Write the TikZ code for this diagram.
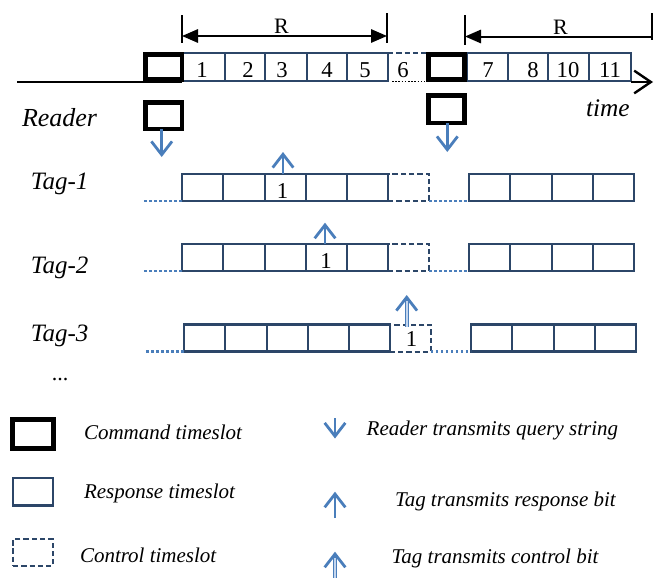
\documentclass[tikz,border=0pt]{standalone}
\usepackage{fontspec}
\setmainfont{Liberation Serif}
\usetikzlibrary{arrows.meta,calc}

\definecolor{slotnavy}{RGB}{44,70,104}
\definecolor{sigblue}{RGB}{74,126,187}
\definecolor{paleblue}{RGB}{196,214,238}

\newcommand\fs[1]{\fontsize{#1}{#1}\selectfont}

% one row of tag timeslots: #1 name prefix, #2 top, #3 bottom, #4 horizontal shift
\newcommand\tagrow[4]{%
  \node[ctrlbox, minimum width=30.75pt, minimum height={(#3-#2)*0.75pt}]
    (#1c6) at ({408.5+#4},{(#2+#3)/2}) {};
  \foreach \a/\b [count=\i] in {182/223,223/265,265/306,306/347,347/388}{
    \node[resp, minimum width={(\b-\a)*0.75pt}, minimum height={(#3-#2)*0.75pt}]
      (#1c\i) at ({(\a+\b)/2+#4},{(#2+#3)/2}) {};}
  \foreach \a/\b [count=\i from 7] in {469/510,510/552,552/593,593/634}{
    \node[resp, minimum width={(\b-\a)*0.75pt}, minimum height={(#3-#2)*0.75pt}]
      (#1c\i) at ({(\a+\b)/2+#4},{(#2+#3)/2}) {};}
  \draw[tail] (#1c1.south west) -- ++(-39,0);
  \draw[tail] (#1c6.south east) -- (#1c7.south west);
}

\begin{document}
\begin{tikzpicture}[x=0.75pt,y=-0.75pt,
  every node/.style={inner sep=0pt, outer sep=0pt},
  resp/.style={draw=slotnavy, line width=1.65pt, fill=white},
  ctrlbox/.style={draw=slotnavy, line width=1.5pt, dash pattern=on 4pt off 2.2pt},
  cmd/.style={draw=black, line width=3.4pt, fill=white},
  tail/.style={draw=sigblue, line width=1.6pt, dash pattern=on 2pt off 1.75pt},
  sig/.style={draw=sigblue, line width=2.1pt, -{Straight Barb[length=10pt,width=15.5pt]}},
  num/.style={font=\fs{17}, anchor=base},
  lbl/.style={font=\fs{18.75}\itshape, anchor=base west},
  leg/.style={font=\fs{15.75}\itshape, anchor=base west},
  axis/.style={draw=black, line width=1.8pt},
  dim/.style={draw=black, line width=1.5pt},
  tick/.style={draw=black, line width=1.1pt},
]
\useasboundingbox (0,0) rectangle (661,578);

% ---------------- time axis ----------------
\coordinate (t0) at (17,82);
\coordinate (t1) at (653,82);

% response timeslots on the axis (c1..c5 before, c7..c10 after the control slot)
\foreach \a/\b [count=\i] in {182/225,225/265,265/307,307/347,347/388}{
  \node[resp, minimum width={(\b-\a)*0.75pt}, minimum height=21pt]
    (c\i) at ({(\a+\b)/2},67) {};}
\foreach \a/\b [count=\i from 7] in {467/508,508/548,548/589,589/631}{
  \node[resp, minimum width={(\b-\a)*0.75pt}, minimum height=21pt]
    (c\i) at ({(\a+\b)/2},67) {};}
% control timeslot on the axis
\node[minimum width=29.25pt, minimum height=21pt] (c6) at (407.5,67) {};
\draw[ctrlbox] (c6.north west) -- (c6.north east);
\draw[black, line width=1.2pt, dash pattern=on 1.2pt off 1.2pt]
  ($(c6.south west)+(4,0.5)$) -- ($(c6.south east)+(-2,0.5)$);

\draw[axis] (t0) -- (t0 -| c1.west);
\draw[axis, -{Straight Barb[length=12.5pt,width=17pt]}] (c10.east |- t1) -- (t1);

% command timeslots on the axis
\node[cmd, minimum width=27.4pt, minimum height=19.1pt] (cmdA) at (163.5,67) {};
\node[cmd, minimum width=27pt, minimum height=19.1pt] (cmdB) at (446.7,67) {};

% slot numbers
\foreach \x/\t [count=\i] in {202/1,248/2,282/3,327/4,365/5,403/6,488/7,533/8,568/10,610/11}{
  \node[num] (n\i) at (\x,77.5) {\t};}

% round length markers
\coordinate (ra) at (182,36);
\coordinate (rb) at (387,36);
\coordinate (rc) at (465,36.5);
\coordinate (rd) at (652,36.5);
\draw[tick] ($(ra)+(0,-21)$) -- ($(ra)+(0,7)$);
\draw[tick] ($(rb)+(0,-23)$) -- ($(rb)+(0,7)$);
\draw[tick] ($(rc)+(0,-21.5)$) -- ($(rc)+(0,8.5)$);
\draw[tick] ($(rd)+(0,-23.5)$) -- ($(rd)+(0,3.5)$);
\draw[dim, {Triangle[length=12pt,width=10pt]}-{Triangle[length=12pt,width=10pt]}] (ra) -- (rb);
\draw[dim, {Triangle[length=12pt,width=10pt]}-] (rc) -- (rd);
\node[font=\fs{16.5}, anchor=base] (r1) at (281.5,33) {R};
\node[font=\fs{16.5}, anchor=base] (r2) at (560.5,35) {R};

\node[font=\fs{19}\itshape, anchor=base west] (time) at (586,116) {time};

% ---------------- reader ----------------
\node[font=\fs{19.5}\itshape, anchor=base west] (reader) at (22,126.5) {Reader};
\node[cmd, minimum width=27.4pt, minimum height=19.9pt] (rd1) at (163.5,115.5) {};
\node[cmd, minimum width=27pt, minimum height=20.4pt] (rd2) at (446.7,109.2) {};
\coordinate (rd1tip) at (161.7,157);
\coordinate (rd2tip) at (447.3,152);
\draw[sig] (rd1.south -| rd1tip) -- (rd1tip);
\draw[sig] (rd2.south -| rd2tip) -- (rd2tip);

% ---------------- tags ----------------
\node[lbl] (tag1) at (31,189) {Tag-1};
\node[lbl] (tag2) at (31,273) {Tag-2};
\node[lbl] (tag3) at (31,341.7) {Tag-3};
\node[font=\fs{16.5}, anchor=base] (more) at (60,380) {...};

\tagrow{ta}{174}{201}{0}
\tagrow{tb}{244}{271}{0}
\tagrow{tc}{324.5}{351.5}{1.8}

\node[num] (ta1) at (282.5,198) {1};
\node[num] (tb1) at (326,268) {1};
\node[num] (tc1) at (411.5,346.7) {1};

\coordinate (taup) at (283,152);
\coordinate (tbup) at (325,222.7);
\coordinate (tcup) at (406.7,295);
\draw[sig] (taup |- tac3.north) -- (taup);
\draw[sig] (tbup |- tbc4.north) -- (tbup);
% control bit: hollow shaft
\draw[sig] ($(tcup |- tcc6.north)+(0,2)$) -- (tcup);
\draw[sigblue, line width=3pt] ($(tcup |- tcc6.north)+(0,2)$) -- ($(tcup)+(0,6)$);
\draw[paleblue, line width=1.3pt] ($(tcup |- tcc6.north)+(0,2)$) -- ($(tcup)+(0,6)$);

% ---------------- legend ----------------
\node[cmd, minimum width=30.75pt, minimum height=21.75pt] (lcmd) at (33,434) {};
\node[resp, minimum width=30pt, minimum height=20.6pt] (lresp) at (33,491.7) {};
\node[ctrlbox, minimum width=30pt, minimum height=19.9pt] (lctrl) at (33,552.5) {};
\node[leg] (lcmdt) at (84,439.3) {Command timeslot};
\node[leg] (lrespt) at (84,498.3) {Response timeslot};
\node[leg] (lctrlt) at (80,562.7) {Control timeslot};

\coordinate (la0) at (335,418);
\coordinate (la1) at (335,438.5);
\coordinate (lb0) at (335,518);
\coordinate (lb1) at (335,491.7);
\coordinate (lc0) at (335,580);
\coordinate (lc1) at (335,551.7);
\draw[sig] (la0) -- (la1);
\draw[sig] (lb0) -- (lb1);
\draw[sig] (lc0) -- (lc1);
\draw[sigblue, line width=3pt] (lc0) -- ($(lc1)+(0,6)$);
\draw[paleblue, line width=1.3pt] (lc0) -- ($(lc1)+(0,6)$);

\node[leg] (lat) at (366.7,435) {Reader transmits query string};
\node[leg] (lbt) at (395,506.7) {Tag transmits response bit};
\node[leg] (lct) at (391.7,563.3) {Tag transmits control bit};
\end{tikzpicture}
\end{document}
